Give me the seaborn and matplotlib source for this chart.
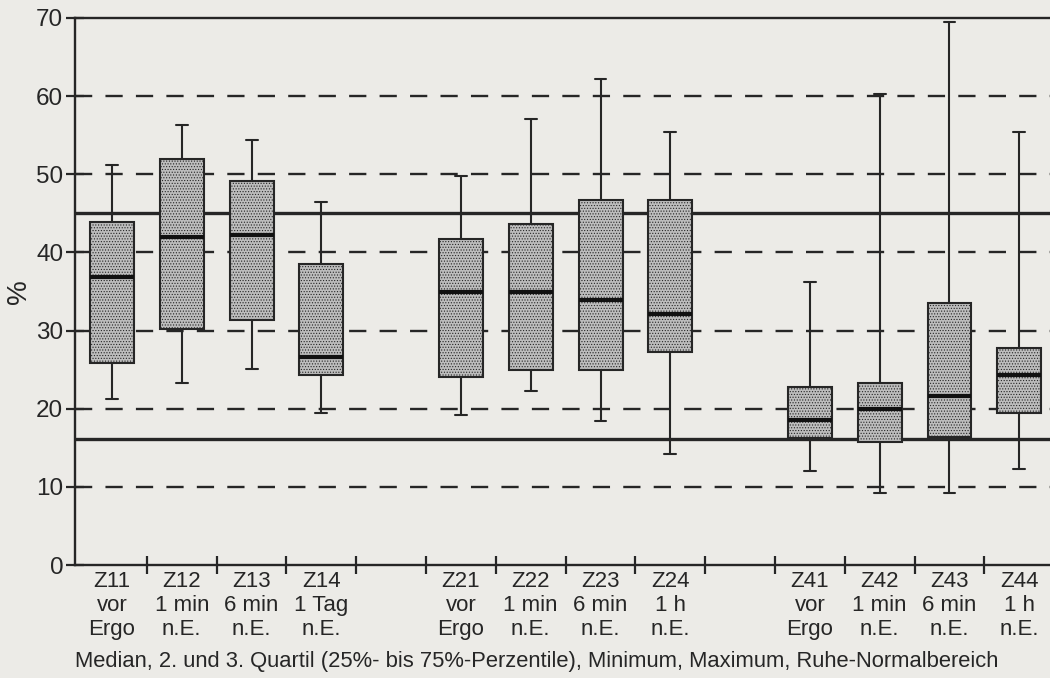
import numpy as np
import pandas as pd
import matplotlib
matplotlib.use("Agg")
import matplotlib.pyplot as plt
import seaborn as sns

# ---- data ----
groups = ["Z11", "Z12", "Z13", "Z14", "Z21", "Z22", "Z23", "Z24", "Z41", "Z42", "Z43", "Z44"]
subtitles = ["vor\nErgo", "1 min\nn.E.", "6 min\nn.E.", "1 Tag\nn.E.",
             "vor\nErgo", "1 min\nn.E.", "6 min\nn.E.", "1 h\nn.E.",
             "vor\nErgo", "1 min\nn.E.", "6 min\nn.E.", "1 h\nn.E."]
minimum = [21.2, 23.3, 25.1, 19.4, 19.2, 22.3, 18.4, 14.2, 12.0, 9.2, 9.2, 12.3]
q1      = [25.9, 30.2, 31.3, 24.3, 24.1, 25.0, 25.0, 27.3, 16.3, 15.7, 16.4, 19.4]
median  = [36.9, 42.0, 42.2, 26.6, 34.9, 35.0, 33.9, 32.1, 18.5, 20.0, 21.6, 24.3]
q3      = [43.9, 51.9, 49.1, 38.5, 41.7, 43.7, 46.7, 46.7, 22.8, 23.3, 33.5, 27.8]
maximum = [51.2, 56.3, 54.4, 46.5, 49.8, 57.1, 62.2, 55.4, 36.2, 60.3, 69.5, 55.4]
normal_range = [16.1, 45.1]
grid_levels = [10, 20, 30, 40, 50, 60]
y_ticks = [0, 10, 20, 30, 40, 50, 60, 70]
caption = "Median, 2. und 3. Quartil (25%- bis 75%-Perzentile), Minimum, Maximum, Ruhe-Normalbereich"

order = groups[:4] + ["_gap1"] + groups[4:8] + ["_gap2"] + groups[8:]
tick_text = {g: f"{g}\n{s}" for g, s in zip(groups, subtitles)}

rows = []
for g, a, b, c, d, e in zip(groups, minimum, q1, median, q3, maximum):
    for v in (a, b, c, d, e):
        rows.append((g, v))
df = pd.DataFrame(rows, columns=["gruppe", "wert"])

# ---- style ----
bg = "#ecebe7"
ink = "#262626"
sns.set_style("ticks")
plt.rcParams["font.family"] = ["Liberation Sans", "DejaVu Sans"]
plt.rcParams["hatch.linewidth"] = 0.5
plt.rcParams["text.color"] = ink

fig = plt.figure(figsize=(10.5, 6.78), dpi=100, facecolor=bg)
ax = fig.add_axes([75 / 1050, 113 / 678, 1 - 75 / 1050, 547 / 678])
ax.set_facecolor(bg)

# reference lines
for v in grid_levels:
    ax.axhline(v, color=ink, lw=1.7, ls=(0, (7.3, 5.6)), zorder=1)
for v in normal_range:
    ax.axhline(v, color=ink, lw=2.4, zorder=1)

sns.boxplot(data=df, x="gruppe", y="wert", order=order, ax=ax,
            whis=(0, 100), width=0.63, color="#bdbdbd", saturation=1,
            linecolor=ink, linewidth=1.5, showfliers=False,
            medianprops=dict(color="#111111", linewidth=3.0),
            capwidths=0.17, zorder=3)
for p in ax.patches:
    p.set_hatch("......")

# axes
ax.set_ylim(0, 70)
ax.set_xlim(-0.53, 13.44)
ax.set_yticks(y_ticks)
ax.set_yticklabels([str(t) for t in y_ticks], fontsize=17.5, color=ink)
ax.tick_params(axis="y", direction="inout", length=13, width=1.6, color=ink, pad=2)

ax.set_xticks(np.arange(0.5, 13.0, 1.0))
ax.set_xticklabels([])
ax.tick_params(axis="x", which="major", direction="inout", length=13, width=1.6, color=ink)
ax.set_xticks(np.arange(len(order)), minor=True)
ax.set_xticklabels([tick_text.get(o, "") for o in order], minor=True,
                   fontsize=16, color=ink, linespacing=1.2)
ax.tick_params(axis="x", which="minor", length=0, pad=4)

ax.set_xlabel("")
ax.set_ylabel("%", fontsize=20, color=ink)
ax.yaxis.label.set_verticalalignment("center")
ax.yaxis.set_label_coords(-0.057, 0.50)

for s in ["left", "bottom", "top"]:
    ax.spines[s].set_color(ink)
    ax.spines[s].set_linewidth(1.7)
ax.spines["right"].set_visible(False)

fig.text(75 / 1050, 16 / 678, caption, fontsize=15.8, color=ink, va="center", ha="left")

fig.savefig("out.png", dpi=100, facecolor=bg)
